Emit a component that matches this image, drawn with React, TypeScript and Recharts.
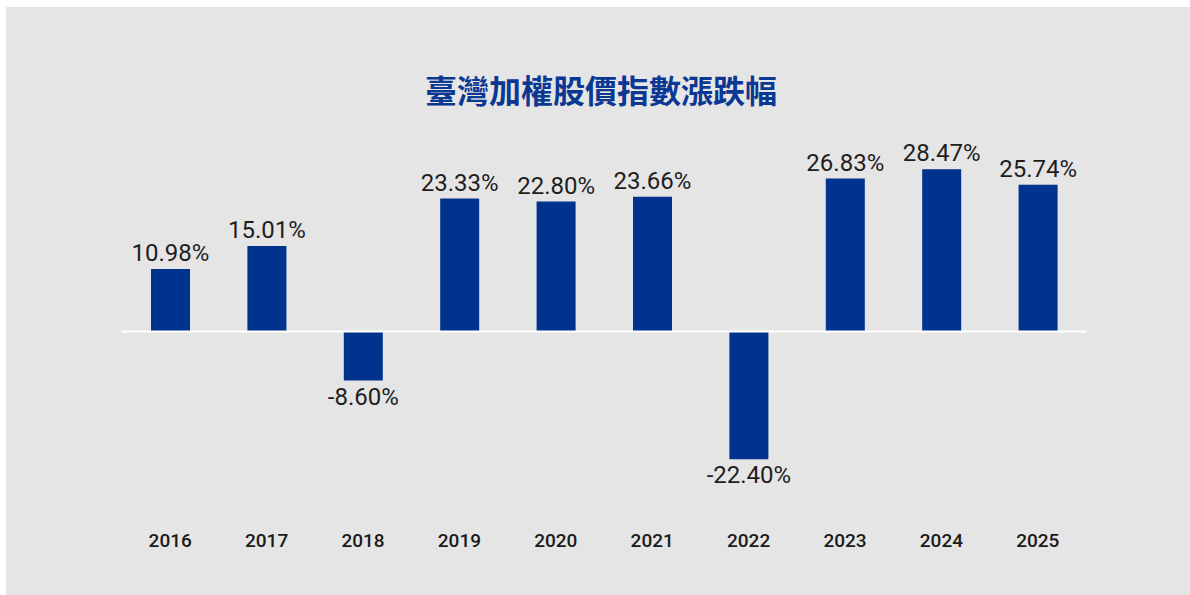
import React from "react";
import { BarChart, Bar, XAxis, YAxis, ReferenceLine, LabelList } from "recharts";

const years = ["2016", "2017", "2018", "2019", "2020", "2021", "2022", "2023", "2024", "2025"];
const returns = [10.98, 15.01, -8.6, 23.33, 22.8, 23.66, -22.4, 26.83, 28.47, 25.74];
const labels = ["10.98%", "15.01%", "-8.60%", "23.33%", "22.80%", "23.66%", "-22.40%", "26.83%", "28.47%", "25.74%"];
const title = "臺灣加權股價指數漲跌幅";

const data = years.map((y, i) => ({ year: y, value: returns[i], label: labels[i] }));

const W = 1184;
const H = 588;
const PLOT_TOP = 125;
const PLOT_BOTTOM = 495.5;

const ValueLabel = (props: any) => {
  const { x, y, width, height, index } = props;
  const top = Math.min(y, y + height);
  const bottom = Math.max(y, y + height);
  const v = returns[index];
  const cx = x + width / 2;
  const ty = v >= 0 ? top - 8 : bottom + 24;
  return (
    <text
      x={cx}
      y={ty}
      textAnchor="middle"
      fontFamily="Roboto, 'Liberation Sans', sans-serif"
      fontWeight={400}
      fontSize={24}
      fill="#1e1e1e"
    >
      {labels[index]}
    </text>
  );
};

const YearTick = (props: any) => {
  const { x, payload } = props;
  return (
    <text
      x={x}
      y={PLOT_BOTTOM + 44}
      textAnchor="middle"
      fontFamily="Roboto, 'Liberation Sans', sans-serif"
      fontWeight={500}
      fontSize={19}
      fill="#1a1a1a"
    >
      {payload.value}
    </text>
  );
};

export default function App() {
  return (
    <div
      style={{
        position: "absolute",
        left: 6,
        top: 7,
        width: W,
        height: H,
        background: "#e5e5e5",
      }}
    >
      <div
        style={{
          position: "absolute",
          left: 3,
          top: 66,
          width: W,
          textAlign: "center",
          fontFamily: "'Noto Sans CJK TC', 'Noto Sans CJK SC', sans-serif",
          fontWeight: 700,
          fontSize: 32,
          lineHeight: "32px",
          color: "#0b3893",
        }}
      >
        {title}
      </div>
      <BarChart
        width={W}
        height={H}
        data={data}
        margin={{ top: PLOT_TOP, right: 104, left: 116, bottom: H - PLOT_BOTTOM - 30 }}
        barCategoryGap={0}
      >
        <XAxis
          dataKey="year"
          axisLine={false}
          tickLine={false}
          tick={<YearTick />}
          height={30}
          interval={0}
        />
        <YAxis hide domain={[-30, 35]} type="number" allowDataOverflow />
        <ReferenceLine y={0} stroke="#ffffff" strokeWidth={2} />
        <Bar dataKey="value" fill="#00338d" barSize={39} isAnimationActive={false}>
          <LabelList dataKey="label" content={<ValueLabel />} />
        </Bar>
      </BarChart>
    </div>
  );
}
